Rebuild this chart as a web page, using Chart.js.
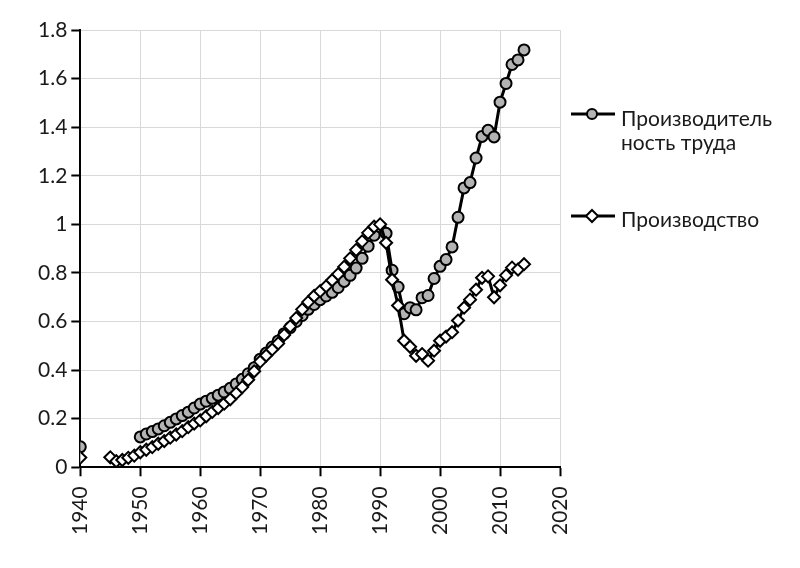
<!DOCTYPE html>
<html>
<head>
<meta charset="utf-8">
<script src="https://cdn.jsdelivr.net/npm/chart.js@4"></script>
<style>
  html, body { margin: 0; padding: 0; background: #fff; }
  #wrap { position: relative; width: 800px; height: 568px; }
  #legend { position: absolute; left: 0; top: 0; font-family: Lato, "Open Sans", sans-serif; font-size: 21px; color: #1a1a1a; }
  .item { position: absolute; }
  .item svg { position: absolute; }
  .item span { position: absolute; line-height: 24px; white-space: nowrap; }
</style>
</head>
<body>
<div id="wrap">
  <canvas id="chart" width="800" height="568"></canvas>
  <div id="legend">
    <div class="item">
      <svg style="left:571px;top:105px" width="44" height="18">
        <line x1="0" y1="9" x2="44" y2="9" stroke="#000" stroke-width="3"/>
        <circle cx="21" cy="9" r="5" fill="#b3b3b3" stroke="#000" stroke-width="2"/>
      </svg>
      <span style="left:621px;top:106px">Производитель<br>ность труда</span>
    </div>
    <div class="item">
      <svg style="left:571px;top:207px" width="44" height="18">
        <line x1="0" y1="9" x2="44" y2="9" stroke="#000" stroke-width="3"/>
        <path d="M21 3 L27 9 L21 15 L15 9 Z" fill="#fff" stroke="#000" stroke-width="2"/>
      </svg>
      <span style="left:621px;top:207px">Производство</span>
    </div>
  </div>
</div>
<script>
// ---- Data (index 0 = 1940) ----
const years = [
  1940, 1941, 1942, 1943, 1944, 1945, 1946, 1947, 1948, 1949,
  1950, 1951, 1952, 1953, 1954, 1955, 1956, 1957, 1958, 1959,
  1960, 1961, 1962, 1963, 1964, 1965, 1966, 1967, 1968, 1969,
  1970, 1971, 1972, 1973, 1974, 1975, 1976, 1977, 1978, 1979,
  1980, 1981, 1982, 1983, 1984, 1985, 1986, 1987, 1988, 1989,
  1990, 1991, 1992, 1993, 1994, 1995, 1996, 1997, 1998, 1999,
  2000, 2001, 2002, 2003, 2004, 2005, 2006, 2007, 2008, 2009,
  2010, 2011, 2012, 2013, 2014
];

const productivity = [
  0.084, null, null, null, null, null, null, null, null, null,
  0.125, 0.137, 0.147, 0.158, 0.171, 0.185, 0.199, 0.213, 0.227, 0.244,
  0.26, 0.272, 0.284, 0.297, 0.31, 0.325, 0.343, 0.362, 0.385, 0.41,
  0.445, 0.47, 0.495, 0.52, 0.55, 0.575, 0.6, 0.625, 0.65, 0.67,
  0.69, 0.705, 0.72, 0.74, 0.765, 0.79, 0.82, 0.86, 0.91, 0.955,
  0.99, 0.963, 0.811, 0.742, 0.632, 0.657, 0.648, 0.698, 0.707, 0.777,
  0.827, 0.855, 0.907, 1.029, 1.15, 1.172, 1.273, 1.362, 1.387, 1.36,
  1.503, 1.58, 1.658, 1.677, 1.718
];

const production = [
  0.04, null, null, null, null, 0.041, 0.025, 0.03, 0.039, 0.048,
  0.062, 0.072, 0.083, 0.097, 0.108, 0.122, 0.135, 0.149, 0.165, 0.18,
  0.193, 0.21, 0.228, 0.244, 0.262, 0.28, 0.305, 0.33, 0.36, 0.395,
  0.435, 0.46, 0.485, 0.51, 0.545, 0.58, 0.614, 0.65, 0.68, 0.705,
  0.725, 0.745, 0.77, 0.795, 0.825, 0.86, 0.895, 0.93, 0.965, 0.99,
  1.0, 0.924, 0.772, 0.666, 0.521, 0.496, 0.459, 0.466, 0.439, 0.48,
  0.521, 0.538, 0.556, 0.604, 0.657, 0.69, 0.731, 0.78, 0.786, 0.70,
  0.749, 0.79, 0.822, 0.814, 0.836
];

const xTicks = [1940, 1950, 1960, 1970, 1980, 1990, 2000, 2010, 2020];
const yTicks = [0, 0.2, 0.4, 0.6, 0.8, 1, 1.2, 1.4, 1.6, 1.8];

const toPoints = vals => years.map((y, i) => ({ x: y, y: vals[i] }));

const FONT = { family: "Lato, 'Open Sans', sans-serif", size: 21 };
const TEXT = "#1a1a1a";
const GRID = "#d9d9d9";

new Chart(document.getElementById("chart"), {
  type: "line",
  data: {
    datasets: [
      {
        label: "Производство",
        data: toPoints(production),
        order: 0,
        borderColor: "#000",
        borderWidth: 3,
        pointStyle: "rectRot",
        pointRadius: 6,
        pointBorderWidth: 2,
        pointBackgroundColor: "#fff",
        pointBorderColor: "#000",
        spanGaps: false,
        tension: 0,
      },
      {
        label: "Производительность труда",
        data: toPoints(productivity),
        order: 1,
        borderColor: "#000",
        borderWidth: 3,
        pointStyle: "circle",
        pointRadius: 5.5,
        pointBorderWidth: 2,
        pointBackgroundColor: "#b3b3b3",
        pointBorderColor: "#000",
        spanGaps: false,
        tension: 0,
      }
    ]
  },
  options: {
    responsive: false,
    animation: false,
    layout: { padding: { left: 34, right: 240, top: 30, bottom: 23 } },
    plugins: { legend: { display: false }, tooltip: { enabled: false } },
    scales: {
      x: {
        type: "linear",
        min: 1940,
        max: 2020,
        afterBuildTicks: axis => { axis.ticks = xTicks.map(v => ({ value: v })); },
        ticks: {
          color: TEXT, font: FONT, minRotation: 90, maxRotation: 90,
          padding: 10, callback: v => String(v)
        },
        grid: { color: GRID, lineWidth: 1, tickColor: "#000", tickLength: 9, tickWidth: 2 },
        border: { color: "#000", width: 2 }
      },
      y: {
        min: 0,
        max: 1.8,
        afterBuildTicks: axis => { axis.ticks = yTicks.map(v => ({ value: v })); },
        ticks: { color: TEXT, font: FONT, padding: 4, callback: v => String(Math.round(v * 10) / 10) },
        grid: { color: GRID, lineWidth: 1, tickColor: "#000", tickLength: 9, tickWidth: 2 },
        border: { color: "#000", width: 2 }
      }
    }
  }
});
</script>
</body>
</html>
